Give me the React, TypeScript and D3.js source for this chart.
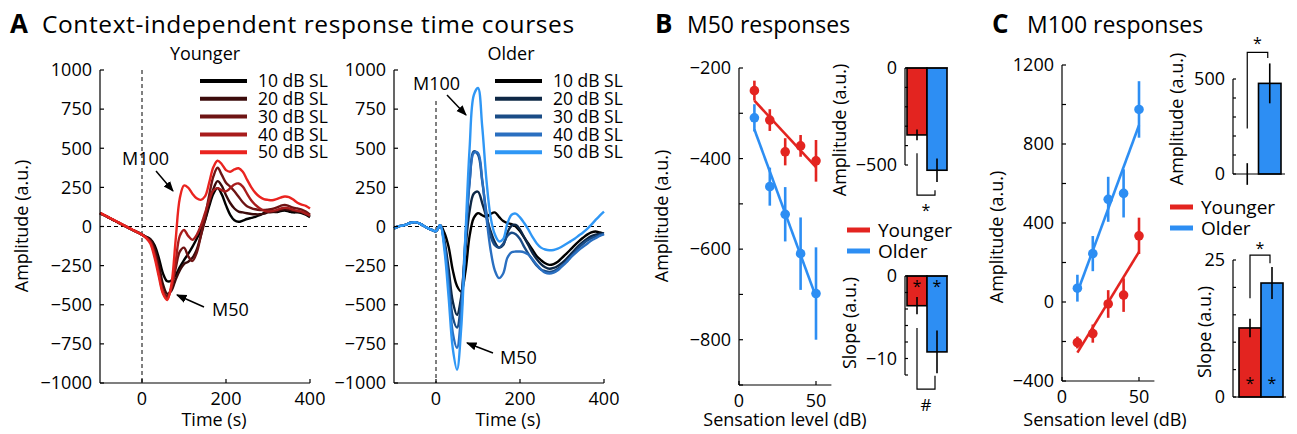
import React from 'react';
import * as d3 from 'd3';

const FONT = '"Open Sans", "Noto Sans", Arial, sans-serif';
const RED = '#e32420';
const BLUE = '#2d8ef3';

// ---- Panel A: time courses (ms), sampled every 10 ms ----
const TIME = [
  -100, -90, -80, -70, -60, -50, -40, -30, -20, -10, 0, 10, 20, 30, 40, 50, 60, 70, 80, 90, 100,
  110, 120, 130, 140, 150, 160, 170, 180, 190, 200, 210, 220, 230, 240, 250, 260, 270, 280, 290, 300,
  310, 320, 330, 340, 350, 360, 370, 380, 390, 400,
];

const LEVEL_LABELS = ['10 dB SL', '20 dB SL', '30 dB SL', '40 dB SL', '50 dB SL'];
const YOUNG_COLORS = ['#000000', '#3b0b0b', '#6e1414', '#a81c1c', '#ea2420'];
const OLD_COLORS = ['#000000', '#0e2846', '#1a4c86', '#2a6fc0', '#2f97f5'];

const YOUNG_10 = [85, 72, 58, 44, 30, 16, 2, -12, -25, -38, -52, -66, -80, -120, -200, -300, -350, -345, -310, -260, -215,
  -175, -130, -80, -25, 40, 130, 210, 245, 205, 135, 75, 40, 30, 38, 48, 55, 62, 72, 85, 95,
  95, 92, 98, 102, 96, 90, 90, 85, 75, 60];
const YOUNG_20 = [85, 72, 58, 44, 30, 16, 2, -12, -25, -38, -52, -68, -85, -140, -240, -370, -430, -410, -340, -280, -240,
  -225, -200, -150, -60, 40, 150, 240, 290, 260, 200, 150, 115, 95, 90, 85, 80, 78, 78, 82, 90,
  92, 96, 105, 110, 105, 100, 95, 90, 80, 65];
const YOUNG_30 = [85, 72, 58, 44, 30, 16, 2, -12, -25, -38, -52, -70, -95, -170, -290, -410, -445, -390, -270, -160, -135,
  -190, -220, -170, -60, 60, 200, 320, 375, 330, 280, 255, 225, 190, 155, 130, 118, 110, 105, 105, 108,
  112, 120, 132, 138, 130, 120, 115, 108, 95, 75];
const YOUNG_40 = [85, 72, 58, 44, 30, 16, 2, -12, -25, -38, -52, -72, -100, -180, -300, -420, -460, -390, -230, -60, -22,
  -60, -85, -55, 5, 85, 170, 230, 245, 232, 225, 245, 268, 275, 255, 210, 168, 138, 116, 102, 96,
  98, 104, 114, 120, 116, 106, 100, 95, 82, 70];
const YOUNG_50 = [88, 74, 60, 46, 32, 18, 4, -10, -24, -38, -52, -74, -110, -200, -320, -430, -470, -370, -90, 180, 262,
  248, 210, 180, 170, 192, 280, 380, 420, 398, 360, 350, 365, 372, 350, 300, 252, 215, 190, 175, 170,
  168, 175, 185, 192, 188, 172, 152, 140, 132, 115];

const OLD_10 = [-12, 0, 6, 14, 24, 28, 20, 5, -10, -22, -30, 8, -40, -130, -280, -380, -415, -290, -60, 55, 85,
  72, 62, 80, 90, 62, 35, 22, 15, 0, -30, -70, -110, -150, -190, -215, -235, -245, -240, -225, -200,
  -175, -148, -120, -95, -72, -52, -38, -32, -38, -45];
const OLD_20 = [-12, 0, 6, 14, 24, 28, 20, 5, -10, -22, -30, 8, -90, -270, -480, -565, -450, -150, 100, 210, 222,
  150, 60, -30, -100, -135, -118, -40, 5, 10, -20, -70, -120, -170, -210, -240, -260, -270, -265, -252, -232,
  -208, -180, -150, -122, -98, -78, -62, -52, -46, -44];
const OLD_30 = [-12, 0, 6, 14, 24, 28, 20, 5, -10, -22, -30, 8, -110, -330, -580, -645, -480, -80, 290, 480, 460,
  290, 90, -60, -120, -135, -110, -60, -40, -50, -80, -130, -175, -215, -250, -275, -285, -290, -285, -270, -250,
  -225, -195, -165, -135, -110, -90, -75, -65, -55, -45];
const OLD_40 = [-12, 0, 6, 14, 24, 28, 20, 5, -10, -22, -30, 8, -120, -380, -680, -775, -560, -100, 280, 470, 470,
  300, 60, -150, -280, -330, -300, -200, -165, -160, -160, -165, -180, -210, -245, -275, -295, -300, -295, -280, -255,
  -230, -200, -175, -150, -130, -110, -90, -75, -60, -50];
const OLD_50 = [-12, 0, 6, 14, 24, 28, 20, 5, -10, -22, -30, 8, -150, -450, -780, -915, -650, -60, 500, 840, 885,
  640, 300, 60, -50, -95, -80, 20, 75, 82, 58, 22, -20, -68, -108, -135, -147, -152, -150, -142, -128,
  -112, -95, -78, -58, -38, -15, 12, 42, 70, 95];

const YOUNG_SERIES = [YOUNG_10, YOUNG_20, YOUNG_30, YOUNG_40, YOUNG_50];
const OLD_SERIES = [OLD_10, OLD_20, OLD_30, OLD_40, OLD_50];

// ---- Panels B & C ----
const SL = [10, 20, 30, 40, 50];
const GROUPS = ['Younger', 'Older'];

const M50_YOUNG = [-250, -315, -385, -372, -405];
const M50_YOUNG_ERR = [22, 24, 30, 24, 46];
const M50_OLD = [-310, -462, -523, -610, -698];
const M50_OLD_ERR = [30, 42, 60, 80, 102];
const M50_AMP = [-345, -527];
const M50_AMP_ERR = [28, 60];
const M50_SLOPE = [-3.6, -9.2];
const M50_SLOPE_ERR = [1.05, 2.6];

const M100_YOUNG = [-205, -160, -10, 35, 335];
const M100_YOUNG_ERR = [30, 46, 70, 85, 92];
const M100_OLD = [70, 245, 520, 550, 975];
const M100_OLD_ERR = [68, 89, 114, 122, 143];
const M100_AMP = [0, 477];
const M100_AMP_ERR = [57, 105];
const M100_SLOPE = [12.6, 20.8];
const M100_SLOPE_ERR = [1.7, 2.9];

const fmt = (v: number) => (v < 0 ? '\u2212' + Math.abs(v) : String(v));

function fitLine(xs: number[], ys: number[]) {
  const mx = d3.mean(xs)!;
  const my = d3.mean(ys)!;
  const b = d3.sum(xs, (x, i) => (x - mx) * (ys[i] - my)) / d3.sum(xs, (x) => (x - mx) ** 2);
  return [xs[0], xs[xs.length - 1]].map((x) => [x, my + b * (x - mx)] as [number, number]);
}

function YAxis({ y, x, ticks, labels, from, to, fs = 18, len = 4 }: any) {
  return (
    <g>
      <line x1={x} x2={x} y1={y(from)} y2={y(to)} stroke="#000" strokeWidth={1.2} />
      {ticks.map((t: number) => (
        <line key={'t' + t} x1={x} x2={x + len} y1={y(t)} y2={y(t)} stroke="#000" strokeWidth={1.2} />
      ))}
      {labels.map((t: number) => (
        <text key={'l' + t} x={x - 8} y={y(t)} dy="0.35em" textAnchor="end" fontSize={fs}>
          {fmt(t)}
        </text>
      ))}
    </g>
  );
}

function XAxis({ x, y, ticks, from, to, len = 4 }: any) {
  return (
    <g>
      <line x1={x(from)} x2={x(to)} y1={y} y2={y} stroke="#000" strokeWidth={1.2} />
      {ticks.map((t: number) => (
        <g key={t}>
          <line x1={x(t)} x2={x(t)} y1={y} y2={y - len} stroke="#000" strokeWidth={1.2} />
          <text x={x(t)} y={y + 22} textAnchor="middle" fontSize={18}>
            {fmt(t)}
          </text>
        </g>
      ))}
    </g>
  );
}

function VLabel({ x, y, text, fs = 18 }: any) {
  return (
    <text transform={`translate(${x},${y}) rotate(-90)`} textAnchor="middle" fontSize={fs}>
      {text}
    </text>
  );
}

function Arrow({ x1, y1, x2, y2 }: any) {
  return <line x1={x1} y1={y1} x2={x2} y2={y2} stroke="#000" strokeWidth={1.5} markerEnd="url(#arrowHead)" />;
}

function TimePanel({ x0, series, colors, title, titleX, timeX, legendX, showYLabels }: any) {
  const x = d3.scaleLinear().domain([-100, 400]).range([x0, x0 + 210]);
  const y = d3.scaleLinear().domain([-1000, 1000]).range([383, 70]);
  const line = d3
    .line<number>()
    .x((_, i) => x(TIME[i]))
    .y((d) => y(d))
    .curve(d3.curveCatmullRom.alpha(0.5));
  const ticks = [-1000, -750, -500, -250, 0, 250, 500, 750, 1000];
  return (
    <g>
      <text x={titleX} y={60} textAnchor="middle" fontSize={18}>
        {title}
      </text>
      <line x1={x(-100)} x2={x(400)} y1={y(0)} y2={y(0)} stroke="#000" strokeWidth={1} strokeDasharray="4,3" />
      <line
        x1={x(0)}
        x2={x(0)}
        y1={showYLabels ? 70 : 101}
        y2={383}
        stroke="#000"
        strokeWidth={1}
        strokeDasharray="4,3"
      />
      {series.map((s: number[], i: number) => (
        <path key={i} d={line(s)!} fill="none" stroke={colors[i]} strokeWidth={2.4} />
      ))}
      <YAxis y={y} x={x0} ticks={ticks} labels={ticks} from={-1000} to={1000} />
      <XAxis x={x} y={383} ticks={[0, 200, 400]} from={-100} to={400} />
      <text x={timeX} y={426} textAnchor="middle" fontSize={18}>
        Time (s)
      </text>
      {LEVEL_LABELS.map((lab, i) => (
        <g key={lab} transform={`translate(${legendX},${81 + i * 17.8})`}>
          <line x1={0} x2={47} y1={0} y2={0} stroke={colors[i]} strokeWidth={4} />
          <text x={58} y={0} dy="0.35em" fontSize={17.5}>
            {lab}
          </text>
        </g>
      ))}
    </g>
  );
}

function Dots({ x, y, vals, errs, color }: any) {
  return (
    <g>
      {vals.map((v: number, i: number) => (
        <g key={i}>
          <line x1={x(SL[i])} x2={x(SL[i])} y1={y(v - errs[i])} y2={y(v + errs[i])} stroke={color} strokeWidth={2.6} />
          <circle cx={x(SL[i])} cy={y(v)} r={4.8} fill={color} />
        </g>
      ))}
    </g>
  );
}

function FitPath({ x, y, vals, color }: any) {
  const pts = fitLine(SL, vals);
  const l = d3
    .line<[number, number]>()
    .x((d) => x(d[0]))
    .y((d) => y(d[1]));
  return <path d={l(pts)!} stroke={color} strokeWidth={2.6} fill="none" />;
}

function Bars({ band, y, vals, errs }: any) {
  const colors = [RED, BLUE];
  return (
    <g>
      {vals.map((v: number, i: number) => {
        const bx = band(GROUPS[i])!;
        const top = Math.min(y(0), y(v));
        const h = Math.abs(y(v) - y(0));
        const cx = bx + band.bandwidth() / 2;
        return (
          <g key={i}>
            {h > 0.5 && (
              <rect x={bx} y={top} width={band.bandwidth()} height={h} fill={colors[i]} stroke="#000" strokeWidth={1.6} />
            )}
            <line x1={cx} x2={cx} y1={y(v - errs[i])} y2={y(v + errs[i])} stroke="#000" strokeWidth={1.6} />
          </g>
        );
      })}
    </g>
  );
}

function Bracket({ band, y, a, b, at, sym, symY, fs = 16 }: any) {
  const c0 = band('Younger')! + band.bandwidth() / 2;
  const c1 = band('Older')! + band.bandwidth() / 2 - 2;
  return (
    <g>
      <path d={`M${c0},${y(a)}V${y(at)}H${c1}V${y(b)}`} fill="none" stroke="#000" strokeWidth={1.2} />
      <text x={(c0 + c1) / 2} y={symY} textAnchor="middle" fontSize={fs}>
        {sym}
      </text>
    </g>
  );
}

function Legend({ x, y }: any) {
  return (
    <g>
      {GROUPS.map((g, i) => (
        <g key={g} transform={`translate(${x},${y + i * 21})`}>
          <line x1={0} x2={23} y1={0} y2={0} stroke={i === 0 ? RED : BLUE} strokeWidth={5} />
          <text x={31} y={0} dy="0.35em" fontSize={19}>
            {g}
          </text>
        </g>
      ))}
    </g>
  );
}

function PanelB() {
  const x = d3.scaleLinear().domain([0, 60]).range([739, 831.4]);
  const y = d3.scaleLinear().domain([-900, -200]).range([385, 68]);
  const yAmp = d3.scaleLinear().domain([-500, 0]).range([165, 68]);
  const ySlope = d3.scaleLinear().domain([-12, 0]).range([375, 276]);
  const band = d3.scaleBand<string>().domain(GROUPS).range([907, 947]);
  return (
    <g>
      <text x={655} y={33} fontSize={26} fontWeight="bold">B</text>
      <text x={687} y={33} fontSize={23}>M50 responses</text>
      <FitPath x={x} y={y} vals={M50_YOUNG} color={RED} />
      <FitPath x={x} y={y} vals={M50_OLD} color={BLUE} />
      <Dots x={x} y={y} vals={M50_YOUNG} errs={M50_YOUNG_ERR} color={RED} />
      <Dots x={x} y={y} vals={M50_OLD} errs={M50_OLD_ERR} color={BLUE} />
      <YAxis y={y} x={739} ticks={d3.range(-900, -199, 100)} labels={[-800, -600, -400, -200]} from={-900} to={-200} />
      <XAxis x={x} y={385} ticks={[0, 50]} from={0} to={60} />
      <VLabel x={668} y={216} text="Amplitude (a.u.)" />
      <text x={785} y={426} textAnchor="middle" fontSize={18}>Sensation level (dB)</text>

      <Bars band={band} y={yAmp} vals={M50_AMP} errs={M50_AMP_ERR} />
      <YAxis y={yAmp} x={905} ticks={d3.range(-500, 1, 100)} labels={[-500, 0]} from={-500} to={0} len={3} />
      <line x1={905} x2={948} y1={yAmp(0)} y2={yAmp(0)} stroke="#000" strokeWidth={1.2} />
      <Bracket band={band} y={yAmp} a={-440} b={-630} at={-655} sym="*" symY={216} />
      <VLabel x={846} y={130} text="Amplitude (a.u.)" />

      <Legend x={847} y={230} />

      <Bars band={band} y={ySlope} vals={M50_SLOPE} errs={M50_SLOPE_ERR} />
      <YAxis y={ySlope} x={905} ticks={d3.range(-12, 1, 2)} labels={[-10, 0]} from={-12} to={0} len={3} />
      <line x1={905} x2={948} y1={ySlope(0)} y2={ySlope(0)} stroke="#000" strokeWidth={1.2} />
      {M50_SLOPE.map((_, i) => (
        <text key={i} x={band(GROUPS[i])! + band.bandwidth() / 2} y={ySlope(-1.9)} textAnchor="middle" fontSize={16}>*</text>
      ))}
      <Bracket band={band} y={ySlope} a={-6.3} b={-12.1} at={-13.7} sym="#" symY={411} fs={17} />
      <VLabel x={856} y={323} text="Slope (a.u.)" />
    </g>
  );
}

function PanelC() {
  const x = d3.scaleLinear().domain([0, 60]).range([1062, 1154.4]);
  const y = d3.scaleLinear().domain([-400, 1200]).range([381, 65]);
  const yAmp = d3.scaleLinear().domain([0, 500]).range([174, 79]);
  const ySlope = d3.scaleLinear().domain([0, 25]).range([397, 260]);
  const bandA = d3.scaleBand<string>().domain(GROUPS).range([1236, 1281]);
  const bandS = d3.scaleBand<string>().domain(GROUPS).range([1239, 1283]);
  return (
    <g>
      <text x={992} y={33} fontSize={26} fontWeight="bold">C</text>
      <text x={1027} y={33} fontSize={23}>M100 responses</text>
      <FitPath x={x} y={y} vals={M100_YOUNG} color={RED} />
      <FitPath x={x} y={y} vals={M100_OLD} color={BLUE} />
      <Dots x={x} y={y} vals={M100_YOUNG} errs={M100_YOUNG_ERR} color={RED} />
      <Dots x={x} y={y} vals={M100_OLD} errs={M100_OLD_ERR} color={BLUE} />
      <YAxis y={y} x={1062} ticks={d3.range(-400, 1201, 200)} labels={[-400, 0, 400, 800, 1200]} from={-400} to={1200} />
      <XAxis x={x} y={381} ticks={[0, 50]} from={0} to={60} />
      <VLabel x={1003} y={237} text="Amplitude (a.u.)" />
      <text x={1105} y={426} textAnchor="middle" fontSize={18}>Sensation level (dB)</text>

      <Bars band={bandA} y={yAmp} vals={M100_AMP} errs={M100_AMP_ERR} />
      <YAxis y={yAmp} x={1233} ticks={d3.range(0, 501, 100)} labels={[0, 500]} from={0} to={500} len={3} />
      <line x1={1233} x2={1285} y1={yAmp(0)} y2={yAmp(0)} stroke="#000" strokeWidth={1.2} />
      <Bracket band={bandA} y={yAmp} a={240} b={610} at={640} sym="*" symY={49} />
      <VLabel x={1183} y={119} text="Amplitude (a.u.)" />

      <Legend x={1170} y={207} />

      <Bars band={bandS} y={ySlope} vals={M100_SLOPE} errs={M100_SLOPE_ERR} />
      <YAxis y={ySlope} x={1233} ticks={d3.range(0, 26, 5)} labels={[0, 25]} from={0} to={25} len={3} />
      <line x1={1233} x2={1286} y1={ySlope(0)} y2={ySlope(0)} stroke="#000" strokeWidth={1.2} />
      {M100_SLOPE.map((_, i) => (
        <text key={i} x={bandS(GROUPS[i])! + bandS.bandwidth() / 2} y={ySlope(1.4)} textAnchor="middle" fontSize={16}>*</text>
      ))}
      <Bracket band={bandS} y={ySlope} a={18} b={24.4} at={25.9} sym="*" symY={254} />
      <VLabel x={1211} y={332} text="Slope (a.u.)" />
    </g>
  );
}

export default function App() {
  return (
    <svg width={1297} height={434} style={{ position: 'absolute', left: 0, top: 0, background: '#fff' }} fontFamily={FONT}>
      <defs>
        <marker id="arrowHead" viewBox="0 0 10 10" refX={9} refY={5} markerWidth={7} markerHeight={7} orient="auto">
          <path d="M0,1L10,5L0,9z" fill="#000" />
        </marker>
      </defs>
      <rect width={1297} height={434} fill="#fff" />
      <text x={10} y={33} fontSize={26} fontWeight="bold">A</text>
      <text x={42} y={33} fontSize={24.5} letterSpacing={0.6}>Context-independent response time courses</text>

      <TimePanel x0={100} series={YOUNG_SERIES} colors={YOUNG_COLORS} title="Younger" titleX={205} timeX={214} legendX={200} showYLabels />
      <VLabel x={28} y={226} text="Amplitude (a.u.)" />
      <TimePanel x0={394} series={OLD_SERIES} colors={OLD_COLORS} title="Older" titleX={511} timeX={508} legendX={495} showYLabels={false} />

      <text x={122} y={165} fontSize={18}>M100</text>
      <Arrow x1={156} y1={171} x2={173} y2={191} />
      <text x={212} y={316} fontSize={18}>M50</text>
      <Arrow x1={204} y1={307} x2={177} y2={295} />

      <text x={413} y={90} fontSize={18}>M100</text>
      <Arrow x1={447} y1={95} x2={466} y2={115} />
      <text x={500} y={364} fontSize={18}>M50</text>
      <Arrow x1={493} y1={353} x2={467} y2={343} />

      <PanelB />
      <PanelC />
    </svg>
  );
}
